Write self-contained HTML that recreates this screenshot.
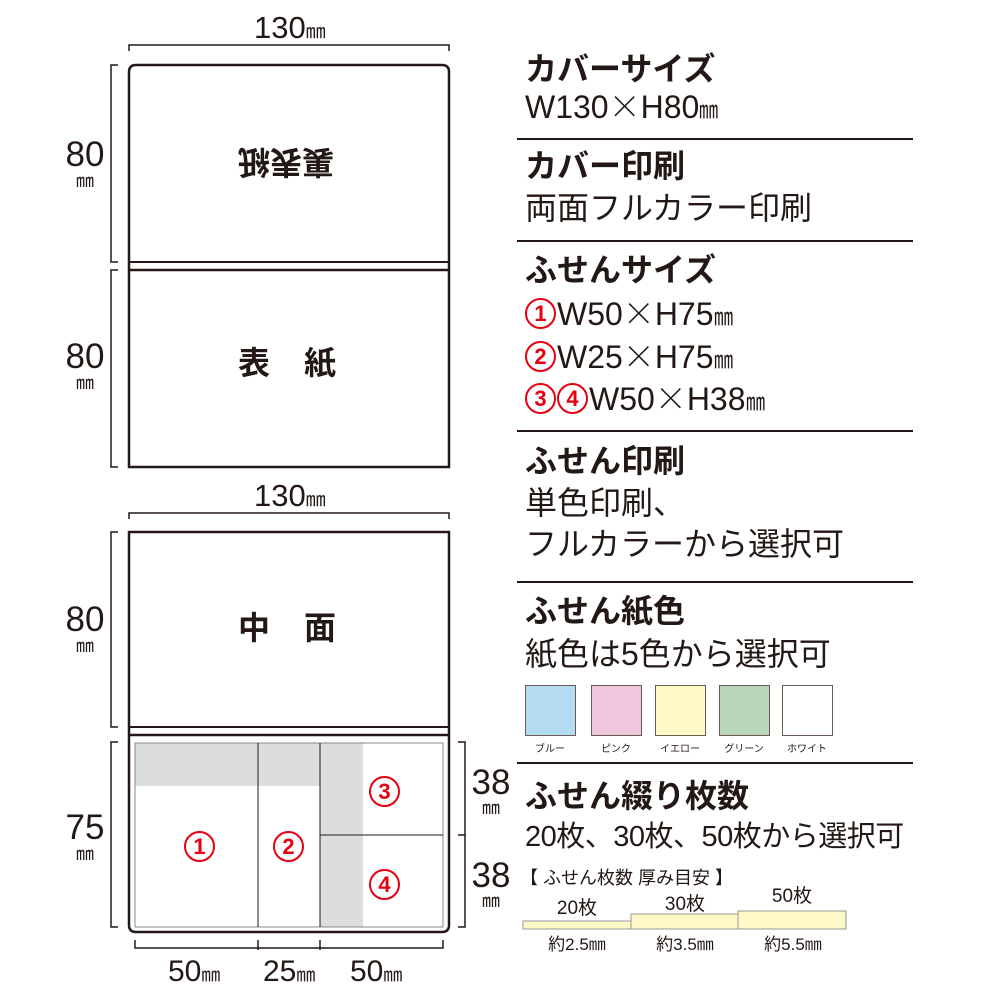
<!DOCTYPE html>
<html><head><meta charset="utf-8"><style>
body{margin:0;background:#fff;}
#c{position:relative;width:1000px;height:1000px;overflow:hidden;font-family:"Liberation Sans","Noto Sans CJK JP",sans-serif;color:#231815;}
.t{position:absolute;white-space:nowrap;line-height:1;}
.h{font-size:32px;font-weight:bold;}
.r{font-size:32px;}
.x{font-family:"Noto Sans CJK JP",sans-serif;font-weight:300;}
.mm{font-size:24px;display:inline-block;transform:scaleX(0.8);transform-origin:left;}
.n{display:inline-block;width:27px;height:27px;border:2px solid #e60012;border-radius:50%;color:#e60012;font-weight:bold;font-size:22px;text-align:center;line-height:27px;vertical-align:middle;margin-right:1px;position:relative;top:-3px;}
.hr{position:absolute;left:517px;width:396px;height:2px;background:#231815;}
.sw{position:absolute;top:685px;width:49px;height:49px;border:1px solid #6b5a55;}
.sl{position:absolute;top:740px;font-size:10px;width:60px;text-align:center;}
.d{position:absolute;text-align:center;line-height:1;}
</style></head><body><div id="c">
<svg width="1000" height="1000" style="position:absolute;left:0;top:0" fill="none" stroke="#231815">
<path d="M129,467 V72 Q129,65 136,65 H442 Q449,65 449,72 V467 Z" stroke-width="2.5"/>
<line x1="129" y1="262" x2="449" y2="262" stroke-width="2"/>
<line x1="129" y1="270" x2="449" y2="270" stroke-width="2.5"/>
<path d="M129,532 H449 V925 Q449,932 442,932 H136 Q129,932 129,925 Z" stroke-width="2.5"/>
<line x1="129" y1="727" x2="449" y2="727" stroke-width="2"/>
<line x1="129" y1="735" x2="449" y2="735" stroke-width="2.5"/>
<rect x="135" y="743" width="185" height="43" fill="#dcdddd" stroke="none"/>
<rect x="320" y="743" width="43" height="184" fill="#dcdddd" stroke="none"/>
<rect x="135" y="743" width="308" height="184" stroke="#888" stroke-width="1"/>
<line x1="258" y1="743" x2="258" y2="927" stroke-width="1"/>
<line x1="320" y1="743" x2="320" y2="927" stroke-width="1"/>
<line x1="320" y1="835" x2="443" y2="835" stroke-width="1"/>
<path d="M129,51 V45 H449 V51" stroke-width="1.5"/>
<path d="M129,519 V513 H449 V519" stroke-width="1.5"/>
<path d="M118,65 H111 V262 H118 M118,270 H111 V467 H118" stroke-width="1.5"/>
<path d="M118,532 H111 V727 H118 M118,742 H111 V927 H118" stroke-width="1.5"/>
<path d="M458,742 H465 V927 H458 M458,835 H465" stroke-width="1.5"/>
<path d="M135,940 V948 H443 V940 M258,940 V950 M320,940 V950" stroke-width="1.5"/>
<rect x="523" y="921" width="108" height="8" fill="#fef8c6" stroke="#999" stroke-width="1"/>
<rect x="631" y="914" width="107" height="15" fill="#fef8c6" stroke="#999" stroke-width="1"/>
<rect x="738" y="911" width="108" height="18" fill="#fef8c6" stroke="#999" stroke-width="1"/>
</svg>

<div class="t" style="left:254px;top:12px;font-size:31px;">130<span style="font-size:20px">㎜</span></div>
<div class="t" style="left:254px;top:480px;font-size:31px;">130<span style="font-size:20px">㎜</span></div>
<div class="d" style="left:60px;width:50px;top:137px;font-size:35px;">80</div><div class="d" style="left:60px;width:50px;top:172px;font-size:18px;">㎜</div>
<div class="d" style="left:60px;width:50px;top:339px;font-size:35px;">80</div><div class="d" style="left:60px;width:50px;top:374px;font-size:18px;">㎜</div>
<div class="d" style="left:60px;width:50px;top:602px;font-size:35px;">80</div><div class="d" style="left:60px;width:50px;top:637px;font-size:18px;">㎜</div>
<div class="d" style="left:60px;width:50px;top:810px;font-size:35px;">75</div><div class="d" style="left:60px;width:50px;top:845px;font-size:18px;">㎜</div>
<div class="d" style="left:466px;width:50px;top:765px;font-size:35px;">38</div><div class="d" style="left:466px;width:50px;top:799px;font-size:18px;">㎜</div>
<div class="d" style="left:466px;width:50px;top:858px;font-size:35px;">38</div><div class="d" style="left:466px;width:50px;top:892px;font-size:18px;">㎜</div>
<div class="t" style="left:168px;top:957px;font-size:30px;">50<span style="font-size:19px">㎜</span></div>
<div class="t" style="left:263px;top:957px;font-size:30px;">25<span style="font-size:19px">㎜</span></div>
<div class="t" style="left:350px;top:957px;font-size:30px;">50<span style="font-size:19px">㎜</span></div>

<div class="t" style="left:238px;top:146px;font-size:32px;font-weight:bold;transform:rotate(180deg);">裏表紙</div>
<div class="t" style="left:238px;top:347px;font-size:32px;font-weight:bold;letter-spacing:34px;">表紙</div>
<div class="t" style="left:238px;top:612px;font-size:32px;font-weight:bold;letter-spacing:34px;">中面</div>
<div class="t" style="left:184px;top:834px;"><span class="n">1</span></div>
<div class="t" style="left:273px;top:834px;"><span class="n">2</span></div>
<div class="t" style="left:369px;top:779px;"><span class="n">3</span></div>
<div class="t" style="left:369px;top:872px;"><span class="n">4</span></div>

<div class="t h" style="left:525px;top:53px;">カバーサイズ</div>
<div class="t r" style="left:525px;top:89px;">W130<span class="x">×</span>H80<span class="mm">㎜</span></div>
<div class="hr" style="top:138px"></div>
<div class="t h" style="left:525px;top:150px;">カバー印刷</div>
<div class="t r" style="left:525px;top:192px;">両面フルカラー印刷</div>
<div class="hr" style="top:240px"></div>
<div class="t h" style="left:525px;top:254px;">ふせんサイズ</div>
<div class="t r" style="left:525px;top:296px;"><span class="n">1</span>W50<span class="x">×</span>H75<span class="mm">㎜</span></div>
<div class="t r" style="left:525px;top:339px;"><span class="n">2</span>W25<span class="x">×</span>H75<span class="mm">㎜</span></div>
<div class="t r" style="left:525px;top:381px;"><span class="n">3</span><span class="n">4</span>W50<span class="x">×</span>H38<span class="mm">㎜</span></div>
<div class="hr" style="top:430px"></div>
<div class="t h" style="left:525px;top:445px;">ふせん印刷</div>
<div class="t r" style="left:525px;top:487px;">単色印刷、</div>
<div class="t r" style="left:525px;top:528px;">フルカラーから選択可</div>
<div class="hr" style="top:581px"></div>
<div class="t h" style="left:525px;top:595px;">ふせん紙色</div>
<div class="t r" style="left:525px;top:638px;">紙色は5色から選択可</div>
<div class="sw" style="left:525px;background:#b4dcf0;"></div>
<div class="sw" style="left:591px;background:#efc6dc;"></div>
<div class="sw" style="left:655px;background:#fef9c6;"></div>
<div class="sw" style="left:719px;background:#b8d8b9;"></div>
<div class="sw" style="left:782px;background:#fff;"></div>
<div class="sl" style="left:520px;">ブルー</div>
<div class="sl" style="left:586px;">ピンク</div>
<div class="sl" style="left:650px;">イエロー</div>
<div class="sl" style="left:714px;">グリーン</div>
<div class="sl" style="left:777px;">ホワイト</div>
<div class="hr" style="top:762px"></div>
<div class="t h" style="left:525px;top:780px;">ふせん綴り枚数</div>
<div class="t r" style="left:525px;top:823px;font-size:29px;letter-spacing:-0.5px;">20枚、30枚、50枚から選択可</div>
<div class="t" style="left:520px;top:869px;font-size:18px;">【 ふせん枚数 厚み目安 】</div>
<div class="d" style="left:537px;width:80px;top:899px;font-size:19px;">20枚</div>
<div class="d" style="left:645px;width:80px;top:895px;font-size:19px;">30枚</div>
<div class="d" style="left:752px;width:80px;top:887px;font-size:19px;">50枚</div>
<div class="d" style="left:527px;width:100px;top:936px;font-size:17px;">約2.5㎜</div>
<div class="d" style="left:635px;width:100px;top:936px;font-size:17px;">約3.5㎜</div>
<div class="d" style="left:743px;width:100px;top:936px;font-size:17px;">約5.5㎜</div>
</div></body></html>
